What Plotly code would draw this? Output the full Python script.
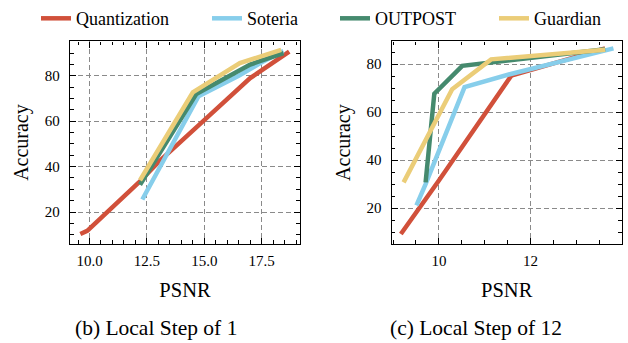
import plotly.graph_objects as go

# ---------------- data ----------------
series_names = ["Quantization", "Soteria", "OUTPOST", "Guardian"]
series_colors = ["#D1503A", "#87CEEB", "#458A6E", "#EBCD78"]

# (b) Local Step of 1
b_quant_x = [9.6, 9.9, 12.15, 13.0, 15.0, 17.0, 18.7]
b_quant_y = [10.3, 11.7, 33.0, 42.0, 60.5, 79.0, 90.7]
b_soteria_x = [12.3, 14.75, 16.5, 17.5, 18.45]
b_soteria_y = [25.5, 71.0, 80.0, 86.0, 91.0]
b_outpost_x = [12.2, 14.65, 17.0, 18.45]
b_outpost_y = [32.0, 72.0, 85.0, 90.0]
b_guardian_x = [12.2, 14.5, 16.55, 18.35]
b_guardian_y = [34.0, 72.7, 85.6, 91.5]

# (c) Local Step of 12
c_quant_x = [9.17, 10.0, 11.58, 13.63]
c_quant_y = [9.2, 31.5, 75.2, 86.6]
c_soteria_x = [9.51, 9.71, 10.56, 11.57, 13.81]
c_soteria_y = [21.1, 30.0, 70.4, 75.9, 86.6]
c_outpost_x = [9.71, 9.9, 10.51, 13.63]
c_outpost_y = [30.7, 67.7, 79.3, 86.2]
c_guardian_x = [9.23, 10.29, 11.14, 13.63]
c_guardian_y = [30.7, 69.5, 82.0, 86.0]

b_x_tick0, b_x_dtick = 10.0, 2.5
c_x_tick0, c_x_dtick = 10, 2
y_tick0, y_dtick = 0, 20

captions = ["(b) Local Step of 1", "(c) Local Step of 12"]
x_title = "PSNR"
y_title = "Accuracy"

# ---------------- figure ----------------
FONT = "Liberation Serif, Times New Roman, serif"
fig = go.Figure()

b_data = [(b_quant_x, b_quant_y), (b_soteria_x, b_soteria_y),
          (b_outpost_x, b_outpost_y), (b_guardian_x, b_guardian_y)]
c_data = [(c_quant_x, c_quant_y), (c_soteria_x, c_soteria_y),
          (c_outpost_x, c_outpost_y), (c_guardian_x, c_guardian_y)]

legend_ids = ["legend", "legend2", "legend3", "legend4"]

for i, (name, color) in enumerate(zip(series_names, series_colors)):
    xs, ys = b_data[i]
    fig.add_trace(go.Scatter(x=xs, y=ys, mode="lines", name=name,
                             line=dict(color=color, width=4.5),
                             xaxis="x", yaxis="y", legendgroup=name,
                             legend=legend_ids[i], showlegend=True))
for i, (name, color) in enumerate(zip(series_names, series_colors)):
    xs, ys = c_data[i]
    fig.add_trace(go.Scatter(x=xs, y=ys, mode="lines", name=name,
                             line=dict(color=color, width=4.5),
                             xaxis="x2", yaxis="y2", legendgroup=name,
                             showlegend=False))

W, H = 628, 343
common = dict(
    showline=True, linecolor="black", linewidth=1.3, mirror="allticks",
    ticks="inside", ticklen=6, tickwidth=1.2, tickcolor="black",
    showgrid=True, gridcolor="#8a8a8a", gridwidth=1, griddash="5px,3px",
    zeroline=False, tickfont=dict(family=FONT, size=15, color="black"),
    automargin=False,
)

def xaxis(domain, rng, tick0, dtick, fmt, anchor):
    return dict(common, domain=domain, range=rng, anchor=anchor,
                tickmode="linear", tick0=tick0, dtick=dtick, tickformat=fmt,
                ticklabelstandoff=3,
                minor=dict(dtick=0.5, tick0=0, ticks="inside", ticklen=3.5,
                           tickwidth=1, tickcolor="black", showgrid=False),
                title=dict(text=x_title, font=dict(family=FONT, size=20.5, color="black"),
                           standoff=14))

def yaxis(domain, rng, anchor):
    return dict(common, domain=domain, range=rng, anchor=anchor,
                tickmode="linear", tick0=y_tick0, dtick=y_dtick,
                ticklabelstandoff=6,
                minor=dict(dtick=5, tick0=0, ticks="inside", ticklen=3.5,
                           tickwidth=1, tickcolor="black", showgrid=False),
                title=dict(text=y_title, font=dict(family=FONT, size=20, color="black"),
                           standoff=10))

ydom = [1 - 242 / H, 1 - 36 / H]
leg_x = [36, 207, 335, 494]
layout_legends = {}
for lid, lx in zip(legend_ids, leg_x):
    layout_legends[lid] = dict(orientation="h", x=lx / W, xanchor="left",
                               y=1 + 6 / H, yanchor="top",
                               font=dict(family=FONT, size=18, color="black"),
                               bgcolor="rgba(0,0,0,0)", borderwidth=0)

fig.update_layout(
    width=W, height=H,
    margin=dict(l=0, r=0, t=0, b=0),
    paper_bgcolor="white", plot_bgcolor="white",
    font=dict(family=FONT, color="black"),
    xaxis=xaxis([70 / W, 300 / W], [9.15, 19.17], b_x_tick0, b_x_dtick, ".1f", "y"),
    yaxis=yaxis(ydom, [6.0, 95.2], "x"),
    xaxis2=xaxis([391.7 / W, 621.7 / W], [8.97, 13.99], c_x_tick0, c_x_dtick, "d", "y2"),
    yaxis2=yaxis(ydom, [5.1, 89.5], "x2"),
    showlegend=True,
    **layout_legends,
)

fig.add_annotation(text=captions[0], xref="paper", yref="paper",
                   x=156 / W, y=1 - 328 / H, xanchor="center", yanchor="middle",
                   showarrow=False, font=dict(family=FONT, size=21.5, color="black"))
fig.add_annotation(text=captions[1], xref="paper", yref="paper",
                   x=476 / W, y=1 - 328 / H, xanchor="center", yanchor="middle",
                   showarrow=False, font=dict(family=FONT, size=21.5, color="black"))

fig.write_html("out.html", config={"displayModeBar": False},
               post_script="document.body.style.margin='0';document.body.style.padding='0';")
